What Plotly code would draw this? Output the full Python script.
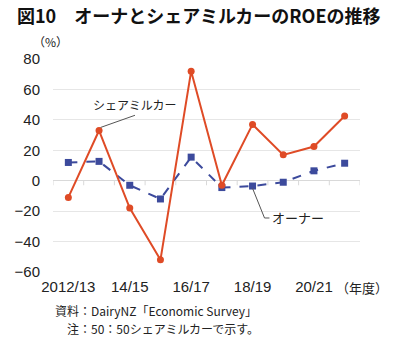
import plotly.graph_objects as go

# Fiscal years (NZ dairy season)
years = ["2012/13", "13/14", "14/15", "15/16", "16/17",
         "17/18", "18/19", "19/20", "20/21", "21/22"]
tick_years = ["2012/13", "14/15", "16/17", "18/19", "20/21"]

# Return on equity (%)
sharemilker_roe = [-11, 33, -18, -52, 72, -3, 37, 17, 22.5, 42.5]
owner_roe = [12, 12.7, -3, -12, 15.5, -4.5, -3.5, -1, 6.5, 11.5]

RED = "#DF4B26"
BLUE = "#3C4A9C"
JP = "Noto Sans CJK JP"
NUM = "Liberation Sans, Arial, " + JP

fig = go.Figure()
fig.add_trace(go.Scatter(
    x=years, y=owner_roe, mode="lines+markers", name="オーナー",
    line=dict(color=BLUE, width=2, dash="dash"),
    marker=dict(symbol="square", size=7, color=BLUE),
))
fig.add_trace(go.Scatter(
    x=years, y=sharemilker_roe, mode="lines+markers", name="シェアミルカー",
    line=dict(color=RED, width=2),
    marker=dict(symbol="circle", size=7, color=RED),
))

shapes = []
# small category ticks hanging from the zero line
for k in range(len(years) + 1):
    shapes.append(dict(type="line", xref="x", yref="y",
                       x0=k - 0.5, x1=k - 0.5, y0=0, y1=-3,
                       line=dict(color="#d9d9d9", width=1)))

# leader line for the sharemilker label
i_s = years.index("13/14")
y_s = sharemilker_roe[i_s]
shapes.append(dict(type="line", xref="x", yref="y",
                   x0=i_s + 0.05, y0=y_s + 2, x1=i_s + 1.17, y1=y_s + 10,
                   line=dict(color="#555555", width=1)))

# bent leader line for the owner label
i_o = years.index("18/19")
y_o = owner_roe[i_o]
shapes.append(dict(type="path", xref="x", yref="y",
                   path=f"M {i_o},{y_o - 1.5} L {i_o + 0.39},{y_o - 21} L {i_o + 0.55},{y_o - 21}",
                   line=dict(color="#555555", width=1)))

annotations = [
    dict(text="シェアミルカー", x=i_s + 1.17, y=y_s + 17, xref="x", yref="y",
         showarrow=False, font=dict(family=JP, size=12, color="#222")),
    dict(text="オーナー", x=i_o + 0.57, y=y_o - 21, xref="x", yref="y",
         xanchor="left", showarrow=False, font=dict(family=JP, size=13, color="#222")),
    dict(text="<b>図10　オーナとシェアミルカーのROEの推移</b>", x=15, y=15,
         xanchor="left", showarrow=False,
         font=dict(family=JP, size=18, color="#111")),
    dict(text="（%）", x=31, y=42, showarrow=False,
         font=dict(family=JP, size=12, color="#222")),
    dict(text="（年度）", x=390, y=287, xanchor="right", showarrow=False,
         font=dict(family=JP, size=13, color="#222")),
    dict(text="資料：DairyNZ「Economic Survey」", x=53, y=310, xanchor="left",
         showarrow=False, font=dict(family=JP, size=12, color="#222")),
    dict(text="注：50：50シェアミルカーで示す。", x=65, y=328, xanchor="left",
         showarrow=False, font=dict(family=JP, size=12, color="#222")),
]

# convert pixel-placed page annotations into paper coordinates
W, H = 400, 341
L, R, T, B = 53, 40, 59, 69
pw, ph = W - L - R, H - T - B
final_ann = []
for a in annotations:
    if a.get("xref") == "x":
        final_ann.append(a)
        continue
    px, py = a["x"], a["y"]
    a = dict(a)
    a["xref"] = "paper"
    a["yref"] = "paper"
    a["x"] = (px - L) / pw
    a["y"] = (H - B - py) / ph
    a.setdefault("yanchor", "middle")
    final_ann.append(a)

fig.update_layout(
    width=W, height=H,
    margin=dict(l=L, r=R, t=T, b=B, pad=0),
    paper_bgcolor="white", plot_bgcolor="white",
    showlegend=False,
    shapes=shapes,
    annotations=final_ann,
    xaxis=dict(
        type="category", categoryorder="array", categoryarray=years,
        range=[-0.5, len(years) - 0.5],
        tickvals=tick_years, ticktext=tick_years,
        showgrid=False, zeroline=False, showline=False, ticks="",
        tickfont=dict(family=NUM, size=15, color="#222"),
        ticklabelstandoff=4,
    ),
    yaxis=dict(
        range=[-60, 80], tickvals=list(range(-60, 81, 20)),
        showgrid=True, gridcolor="#e6e6e6", gridwidth=1,
        zeroline=True, zerolinecolor="#d9d9d9", zerolinewidth=1,
        showline=False, ticks="",
        tickfont=dict(family=NUM, size=15, color="#222"),
        ticklabelstandoff=12,
    ),
)

fig.write_html("out.html")
